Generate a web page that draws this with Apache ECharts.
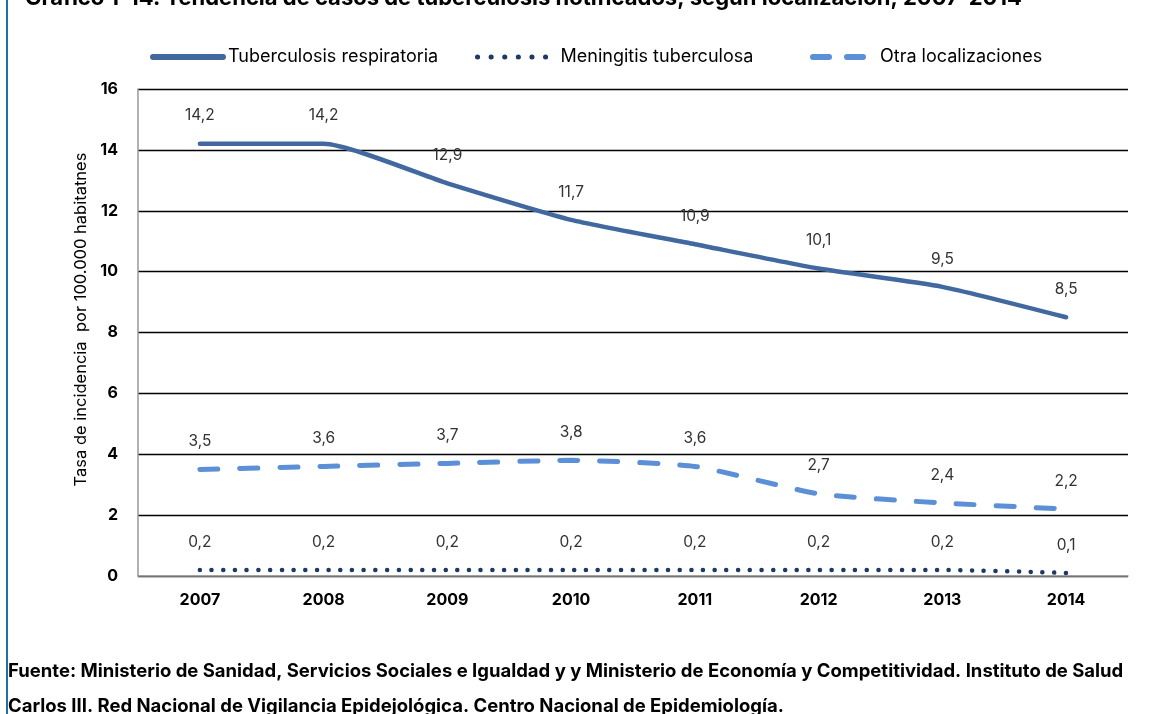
<!DOCTYPE html>
<html>
<head>
<meta charset="utf-8">
<script src="https://cdn.jsdelivr.net/npm/echarts@6/dist/echarts.min.js"></script>
<style>
  html, body { margin: 0; padding: 0; background: #fff; }
  #chart { width: 1158px; height: 714px; }
</style>
</head>
<body>
<div id="chart"></div>
<script>
// datos
var years = ['2007', '2008', '2009', '2010', '2011', '2012', '2013', '2014']
var tbRespiratoria = [14.2, 14.2, 12.9, 11.7, 10.9, 10.1, 9.5, 8.5]
var meningitis = [0.2, 0.2, 0.2, 0.2, 0.2, 0.2, 0.2, 0.1]
var otraLocalizacion = [3.5, 3.6, 3.7, 3.8, 3.6, 2.7, 2.4, 2.2]

var fontFam = 'Inter, "Liberation Sans", Arial, sans-serif'

var chart = echarts.init(document.getElementById('chart'))

function labelConf() {
  return {
    show: true,
    position: 'top',
    distance: 20,
    fontSize: 15.5,
    fontFamily: fontFam,
    color: '#333',
    formatter: function(p) {
      return p.value.toFixed(1).replace('.', ',')
    }
  }
}

// una leyenda por serie para poder colocar cada una como en el original
function legendConf(name, left, itemWidth, textPad, lineStyle) {
  return {
    top: 43,
    left: left,
    itemWidth: itemWidth,
    itemHeight: 18,
    itemStyle: { opacity: 0 },
    lineStyle: lineStyle,
    textStyle: { fontSize: 18, fontFamily: fontFam, color: '#000', padding: [0, 0, 0, textPad] },
    data: [name]
  }
}

chart.setOption({
  backgroundColor: '#fff',
  animation: false,
  graphic: [
    {
      type: 'rect',
      shape: { x: 6, y: 0, width: 2, height: 714 },
      style: { fill: '#1f6fae' }
    },
    {
      type: 'text',
      left: 25,
      top: -13,
      style: {
        text: 'Gráfico 1-14. Tendencia de casos de tuberculosis notificados, según localización, 2007-2014',
        font: 'bold 22px ' + fontFam,
        fill: '#000'
      }
    },
    {
      type: 'text',
      left: 8,
      top: 662,
      style: {
        text: 'Fuente: Ministerio de Sanidad, Servicios Sociales e Igualdad y y Ministerio de Economía y Competitividad. Instituto de Salud',
        font: 'bold 18.5px ' + fontFam,
        fill: '#000'
      }
    },
    {
      type: 'text',
      left: 8,
      top: 697,
      style: {
        text: 'Carlos III. Red Nacional de Vigilancia Epidejológica. Centro Nacional de Epidemiología.',
        font: 'bold 18.5px ' + fontFam,
        fill: '#000'
      }
    }
  ],
  legend: [
    legendConf('Tuberculosis respiratoria', 145, 70, 0, { width: 6, cap: 'round' }),
    legendConf('Meningitis tuberculosa', 470, 75, 3, { width: 5, type: [0.1, 13.5], cap: 'round' }),
    legendConf('Otra localizaciones', 805, 55, 7, { width: 6, type: [16, 18], cap: 'round' })
  ],
  grid: {
    left: 138,
    right: 30,
    top: 89,
    bottom: 138,
    containLabel: false
  },
  xAxis: {
    type: 'category',
    data: years,
    boundaryGap: true,
    axisLine: { show: true, lineStyle: { color: '#999', width: 1.5 } },
    axisTick: { show: false },
    axisLabel: {
      margin: 16,
      fontSize: 16,
      fontWeight: 'bold',
      fontFamily: fontFam,
      color: '#000'
    }
  },
  yAxis: {
    type: 'value',
    min: 0,
    max: 16,
    interval: 2,
    name: 'Tasa de incidencia  por 100.000 habitatnes',
    nameLocation: 'middle',
    nameGap: 46,
    nameTextStyle: { fontSize: 16.5, fontFamily: fontFam, color: '#000', padding: [0, 0, 0, 26] },
    axisLine: { show: true, lineStyle: { color: '#999', width: 1.5 } },
    axisTick: { show: false },
    axisLabel: {
      margin: 20,
      fontSize: 16,
      fontWeight: 'bold',
      fontFamily: fontFam,
      color: '#000'
    },
    splitLine: { show: true, lineStyle: { color: '#000', width: 1.3 } }
  },
  series: [
    {
      name: 'Tuberculosis respiratoria',
      type: 'line',
      data: tbRespiratoria,
      smooth: 0.18,
      symbol: 'circle',
      symbolSize: 0,
      color: '#41699f',
      lineStyle: { width: 4.5, color: '#41699f', cap: 'round' },
      label: labelConf()
    },
    {
      name: 'Meningitis tuberculosa',
      type: 'line',
      data: meningitis,
      smooth: 0.18,
      symbol: 'circle',
      symbolSize: 0,
      color: '#1d3a63',
      lineStyle: { width: 4.5, color: '#1d3a63', type: [0.1, 11.6], cap: 'round' },
      label: labelConf()
    },
    {
      name: 'Otra localizaciones',
      type: 'line',
      data: otraLocalizacion,
      smooth: 0.18,
      symbol: 'circle',
      symbolSize: 0,
      color: '#5b8fd6',
      lineStyle: { width: 5, color: '#5b8fd6', type: [18, 22], cap: 'round' },
      label: labelConf()
    }
  ]
})
</script>
</body>
</html>
